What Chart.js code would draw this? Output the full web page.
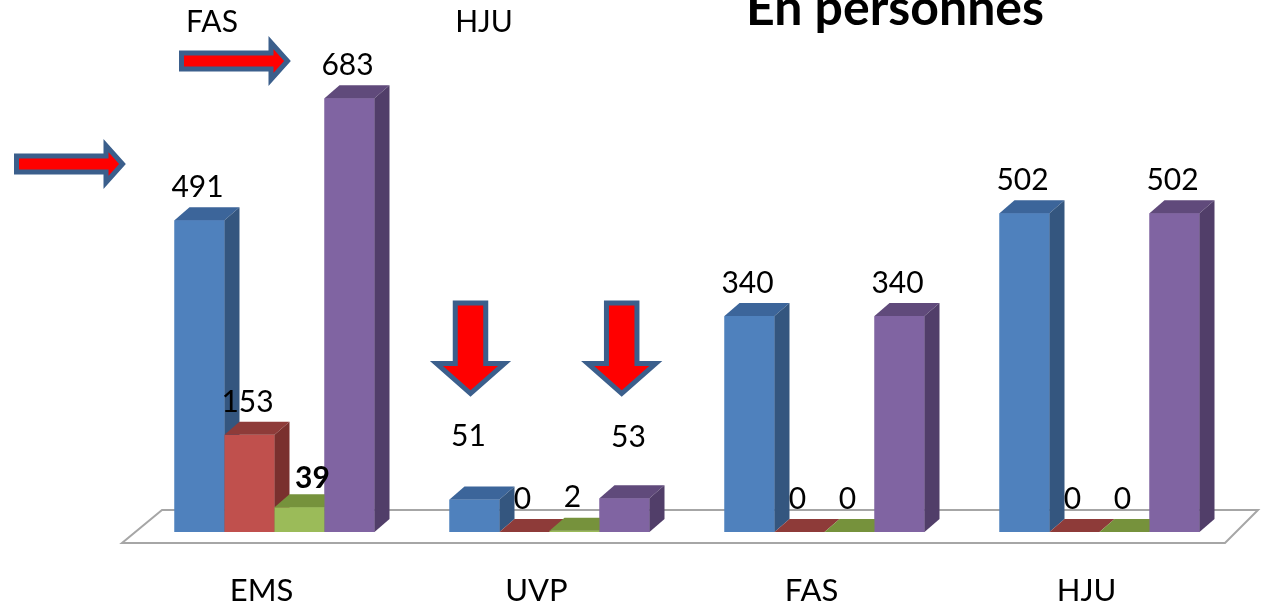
<!DOCTYPE html>
<html>
<head>
<meta charset="utf-8">
<script src="https://cdn.jsdelivr.net/npm/chart.js@4.4.1/dist/chart.umd.min.js"></script>
<style>
  html, body { margin: 0; padding: 0; background: #fff; }
  #wrap { width: 1276px; height: 606px; }
</style>
</head>
<body>
<div id="wrap"><canvas id="chart" width="1276" height="606"></canvas></div>
<script>
// données
const categories = ['EMS', 'UVP', 'FAS', 'HJU'];
const serie1 = [491, 51, 340, 502];
const serie2 = [153, 0, 0, 0];
const serie3 = [39, 2, 0, 0];
const serie4 = [683, 53, 340, 502];
const topNotes = ['FAS', 'HJU'];
const title = 'En personnes';

// faces : avant, dessus, côté
const faces = [
    ['#4F81BD', '#3C659A', '#34567F'],
    ['#C0504D', '#8E3B39', '#7A302E'],
    ['#9BBB59', '#76923C', '#6A8535'],
    ['#8064A2', '#604A7B', '#513E69']
];
const DX = 15, DY = 13;
const FONT = 'Lato, "Open Sans", sans-serif';

// petits décalages des étiquettes (dataset:index)
const labelShift = { '2:0': [15, 4], '0:1': [-4, -30], '3:1': [6, -28] };

function drawRightArrow(ctx, x0, yc, bodyLen, bodyH, headLen, headH) {
    ctx.beginPath();
    ctx.moveTo(x0, yc - bodyH / 2);
    ctx.lineTo(x0 + bodyLen, yc - bodyH / 2);
    ctx.lineTo(x0 + bodyLen, yc - headH / 2);
    ctx.lineTo(x0 + bodyLen + headLen, yc);
    ctx.lineTo(x0 + bodyLen, yc + headH / 2);
    ctx.lineTo(x0 + bodyLen, yc + bodyH / 2);
    ctx.lineTo(x0, yc + bodyH / 2);
    ctx.closePath();
    ctx.fill();
    ctx.stroke();
}

function drawDownArrow(ctx, xc, y0, bodyW, bodyLen, headW, headLen) {
    ctx.beginPath();
    ctx.moveTo(xc - bodyW / 2, y0);
    ctx.lineTo(xc + bodyW / 2, y0);
    ctx.lineTo(xc + bodyW / 2, y0 + bodyLen);
    ctx.lineTo(xc + headW / 2, y0 + bodyLen);
    ctx.lineTo(xc, y0 + bodyLen + headLen);
    ctx.lineTo(xc - headW / 2, y0 + bodyLen);
    ctx.lineTo(xc - bodyW / 2, y0 + bodyLen);
    ctx.closePath();
    ctx.fill();
    ctx.stroke();
}

const bars3d = {
    id: 'bars3d',
    beforeDatasetsDraw(chart) {
        // le plancher
        const ctx = chart.ctx;
        const a = chart.chartArea;
        ctx.save();
        ctx.beginPath();
        ctx.moveTo(a.left - 15, a.bottom + 11);
        ctx.lineTo(a.right - 12, a.bottom + 11);
        ctx.lineTo(a.right + 21, a.bottom - 22);
        ctx.lineTo(a.left + 25, a.bottom - 22);
        ctx.closePath();
        ctx.fillStyle = '#fff';
        ctx.fill();
        ctx.strokeStyle = '#A6A6A6';
        ctx.lineWidth = 2;
        ctx.stroke();
        ctx.restore();
    },
    afterDatasetsDraw(chart) {
        const ctx = chart.ctx;
        const list = [];
        chart.data.datasets.forEach((ds, di) => {
            chart.getDatasetMeta(di).data.forEach((bar, i) => {
                list.push({ bar, di, i });
            });
        });
        list.sort((p, q) => p.bar.x - q.bar.x);
        ctx.save();
        list.forEach(({ bar, di }) => {
            const w = bar.width;
            const l = bar.x - w / 2, r = bar.x + w / 2;
            const t = bar.y, b = bar.base;
            const c = faces[di];
            ctx.fillStyle = c[0];
            ctx.fillRect(l, t, w, b - t);
            ctx.fillStyle = c[1];
            ctx.beginPath();
            ctx.moveTo(l, t);
            ctx.lineTo(l + DX, t - DY);
            ctx.lineTo(r + DX, t - DY);
            ctx.lineTo(r, t);
            ctx.closePath();
            ctx.fill();
            ctx.fillStyle = c[2];
            ctx.beginPath();
            ctx.moveTo(r, t);
            ctx.lineTo(r + DX, t - DY);
            ctx.lineTo(r + DX, b - DY);
            ctx.lineTo(r, b);
            ctx.closePath();
            ctx.fill();
        });
        // étiquettes de valeurs
        ctx.fillStyle = '#000';
        ctx.textAlign = 'center';
        ctx.textBaseline = 'middle';
        list.forEach(({ bar, di, i }) => {
            const v = chart.data.datasets[di].data[i];
            const s = labelShift[di + ':' + i] || [0, 0];
            ctx.font = (di === 2 && i === 0 ? 'bold ' : '') + '30px ' + FONT;
            ctx.fillText(String(v), bar.x - 2 + s[0], bar.y - 33 + s[1]);
        });
        // catégories sous le plancher
        ctx.font = '31px ' + FONT;
        const xs = chart.scales.x;
        categories.forEach((c, i) => {
            ctx.fillText(c, xs.getPixelForValue(i) - 13, chart.chartArea.bottom + 59);
        });
        ctx.restore();
    },
    afterDraw(chart) {
        const ctx = chart.ctx;
        ctx.save();
        // titre (coupé en haut)
        ctx.fillStyle = '#000';
        ctx.textAlign = 'center';
        ctx.textBaseline = 'alphabetic';
        ctx.font = 'bold 50px ' + FONT;
        ctx.fillText(title, 895, 25);
        ctx.font = '30px ' + FONT;
        ctx.textBaseline = 'middle';
        ctx.fillText(topNotes[0], 212, 22);
        ctx.fillText(topNotes[1], 484, 22);
        // flèches
        ctx.fillStyle = '#FF0000';
        ctx.strokeStyle = '#3B5F8C';
        ctx.lineWidth = 5;
        ctx.lineJoin = 'miter';
        drawRightArrow(ctx, 16.5, 164, 89.5, 16, 16.5, 37);
        drawRightArrow(ctx, 181.5, 61, 89.5, 16, 16.5, 37);
        drawDownArrow(ctx, 470.5, 303, 30.5, 60.5, 68, 30);
        drawDownArrow(ctx, 621.7, 303, 30.5, 60.5, 68, 30);
        ctx.restore();
    }
};

new Chart(document.getElementById('chart'), {
    type: 'bar',
    data: {
        labels: categories,
        datasets: [
            { label: 'Série 1', data: serie1, backgroundColor: faces[0][0] },
            { label: 'Série 2', data: serie2, backgroundColor: faces[1][0] },
            { label: 'Série 3', data: serie3, backgroundColor: faces[2][0] },
            { label: 'Série 4', data: serie4, backgroundColor: faces[3][0] }
        ]
    },
    options: {
        responsive: false,
        animation: false,
        layout: { padding: { left: 137, right: 39, top: 24, bottom: 74 } },
        datasets: { bar: { categoryPercentage: 200 / 275, barPercentage: 1, borderWidth: 0 } },
        scales: {
            x: { display: false },
            y: { display: false, min: 0, max: 800 }
        },
        plugins: {
            legend: { display: false },
            tooltip: { enabled: false }
        }
    },
    plugins: [bars3d]
});
</script>
</body>
</html>
